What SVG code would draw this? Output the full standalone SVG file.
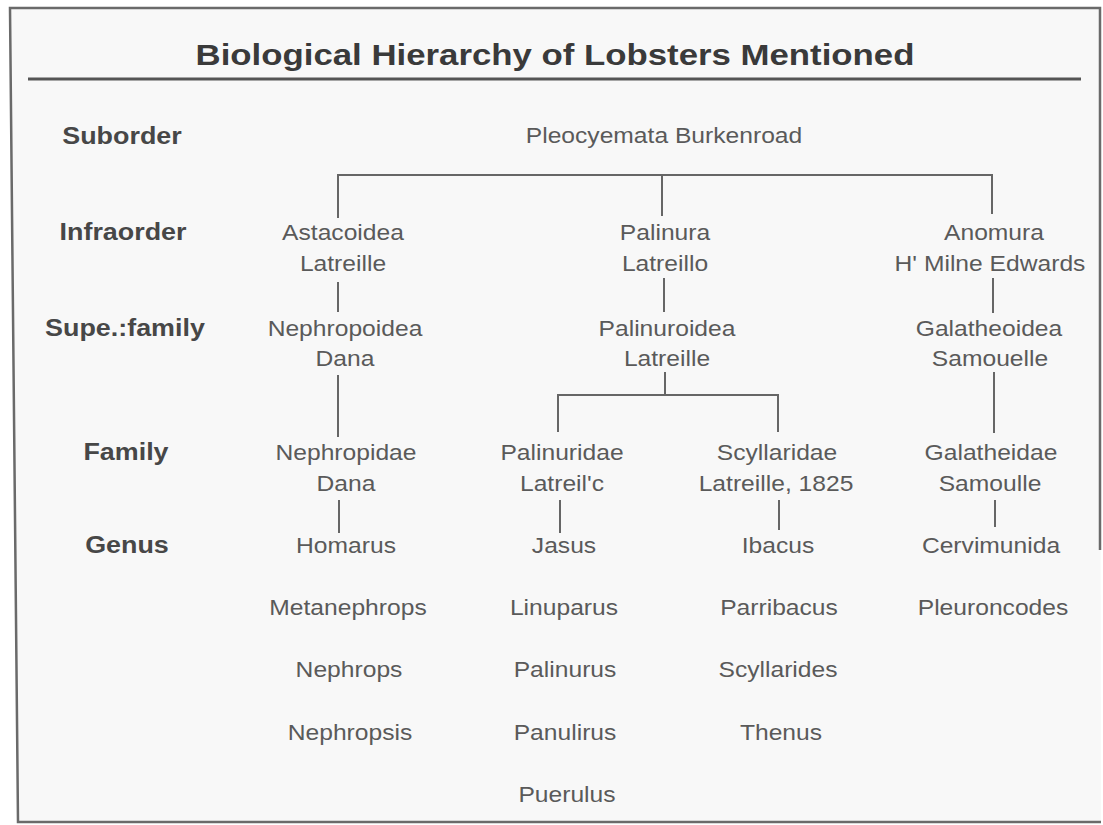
<svg xmlns="http://www.w3.org/2000/svg" width="1103" height="825" viewBox="0 0 1103 825">
<style>
.t{font-family:"Liberation Sans",Arial,sans-serif;font-size:22px;fill:#5a5a5a;text-anchor:middle}
.lbl{font-family:"Liberation Sans",Arial,sans-serif;font-size:24px;font-weight:bold;fill:#474747;text-anchor:middle}
.title{font-family:"Liberation Sans",Arial,sans-serif;font-size:30px;font-weight:bold;fill:#3a3a3a;text-anchor:middle}
.ln{fill:none;stroke:#666;stroke-width:2}
.frame{fill:none;stroke:#6a6a6a;stroke-width:2.5}
</style>
<rect x="0" y="0" width="1103" height="825" fill="#ffffff"/>
<polygon points="10,8 1100,8 1101,822 18,822" fill="#f8f8f8"/>
<g id="frame">
<polyline class="frame" points="1100,550 1100,8 10,8 18,822 1101,822"/>
<line x1="28" y1="79" x2="1081" y2="79" stroke="#555" stroke-width="3"/>
</g>
<g id="title"><text class="title" transform="translate(555,65) scale(1.16,1)">Biological Hierarchy of Lobsters Mentioned</text></g>
<g id="rank-labels">
<text class="lbl" transform="translate(122,144) scale(1.12,1)">Suborder</text>
<text class="lbl" transform="translate(123,240) scale(1.12,1)">Infraorder</text>
<text class="lbl" transform="translate(125,336) scale(1.12,1)">Supe.:family</text>
<text class="lbl" transform="translate(126,460) scale(1.12,1)">Family</text>
<text class="lbl" transform="translate(127,553) scale(1.12,1)">Genus</text>
</g>
<g id="connectors">
<path class="ln" d="M338,218 V175 H992 V214"/>
<path class="ln" d="M662,175 V216"/>
<path class="ln" d="M338,282 V312"/>
<path class="ln" d="M338,375 V437"/>
<path class="ln" d="M339,500 V533"/>
<path class="ln" d="M664,278 V312"/>
<path class="ln" d="M665,372 V395"/>
<path class="ln" d="M558,432 V395 H778 V432"/>
<path class="ln" d="M560,500 V533"/>
<path class="ln" d="M779,500 V530"/>
<path class="ln" d="M993,278 V313"/>
<path class="ln" d="M994,372 V433"/>
<path class="ln" d="M995,500 V527"/>
</g>
<g id="n-pleocyemata"><text class="t" transform="translate(664,143) scale(1.12,1)">Pleocyemata Burkenroad</text></g>
<g id="n-astacoidea">
<text class="t" transform="translate(343,240) scale(1.12,1)">Astacoidea</text>
<text class="t" transform="translate(343,271) scale(1.12,1)">Latreille</text>
</g>
<g id="n-palinura">
<text class="t" transform="translate(665,240) scale(1.12,1)">Palinura</text>
<text class="t" transform="translate(665,271) scale(1.12,1)">Latreillo</text>
</g>
<g id="n-anomura">
<text class="t" transform="translate(994,240) scale(1.12,1)">Anomura</text>
<text class="t" transform="translate(990,271) scale(1.12,1)">H' Milne Edwards</text>
</g>
<g id="n-nephropoidea">
<text class="t" transform="translate(345,336) scale(1.12,1)">Nephropoidea</text>
<text class="t" transform="translate(345,366) scale(1.12,1)">Dana</text>
</g>
<g id="n-palinuroidea">
<text class="t" transform="translate(667,336) scale(1.12,1)">Palinuroidea</text>
<text class="t" transform="translate(667,366) scale(1.12,1)">Latreille</text>
</g>
<g id="n-galatheoidea">
<text class="t" transform="translate(989,336) scale(1.12,1)">Galatheoidea</text>
<text class="t" transform="translate(990,366) scale(1.12,1)">Samouelle</text>
</g>
<g id="n-nephropidae">
<text class="t" transform="translate(346,460) scale(1.12,1)">Nephropidae</text>
<text class="t" transform="translate(346,491) scale(1.12,1)">Dana</text>
</g>
<g id="n-palinuridae">
<text class="t" transform="translate(562,460) scale(1.12,1)">Palinuridae</text>
<text class="t" transform="translate(562,491) scale(1.12,1)">Latreil'c</text>
</g>
<g id="n-scyllaridae">
<text class="t" transform="translate(777,460) scale(1.12,1)">Scyllaridae</text>
<text class="t" transform="translate(776,491) scale(1.12,1)">Latreille, 1825</text>
</g>
<g id="n-galatheidae">
<text class="t" transform="translate(991,460) scale(1.12,1)">Galatheidae</text>
<text class="t" transform="translate(990,491) scale(1.12,1)">Samoulle</text>
</g>
<g id="g-nephropidae">
<text class="t" transform="translate(346,553) scale(1.12,1)">Homarus</text>
<text class="t" transform="translate(348,615) scale(1.12,1)">Metanephrops</text>
<text class="t" transform="translate(349,677) scale(1.12,1)">Nephrops</text>
<text class="t" transform="translate(350,740) scale(1.12,1)">Nephropsis</text>
</g>
<g id="g-palinuridae">
<text class="t" transform="translate(564,553) scale(1.12,1)">Jasus</text>
<text class="t" transform="translate(564,615) scale(1.12,1)">Linuparus</text>
<text class="t" transform="translate(565,677) scale(1.12,1)">Palinurus</text>
<text class="t" transform="translate(565,740) scale(1.12,1)">Panulirus</text>
<text class="t" transform="translate(567,802) scale(1.12,1)">Puerulus</text>
</g>
<g id="g-scyllaridae">
<text class="t" transform="translate(778,553) scale(1.12,1)">Ibacus</text>
<text class="t" transform="translate(779,615) scale(1.12,1)">Parribacus</text>
<text class="t" transform="translate(778,677) scale(1.12,1)">Scyllarides</text>
<text class="t" transform="translate(781,740) scale(1.12,1)">Thenus</text>
</g>
<g id="g-galatheidae">
<text class="t" transform="translate(991,553) scale(1.12,1)">Cervimunida</text>
<text class="t" transform="translate(993,615) scale(1.12,1)">Pleuroncodes</text>
</g>
</svg>
